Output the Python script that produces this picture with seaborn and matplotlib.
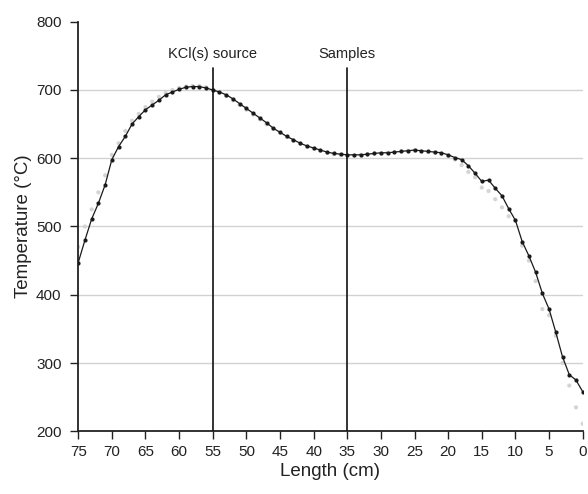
import matplotlib
matplotlib.use("Agg")
import matplotlib.pyplot as plt
import pandas as pd
import seaborn as sns

# Furnace temperature profile along the tube
length_cm = list(range(75, -1, -1))

temp_measured = [
    447, 480, 511, 534, 561, 598, 617, 632, 650, 661,   # 75..66
    671, 678, 685, 693, 697, 701, 704, 705, 705, 703,   # 65..56
    700, 697, 693, 687, 680, 673, 666, 659, 652, 644,   # 55..46
    638, 632, 627, 622, 618, 615, 612, 609, 607, 606,   # 45..36
    605, 605, 605, 606, 607, 608, 608, 609, 610, 611,   # 35..26
    612, 611, 610, 609, 608, 605, 601, 598, 589, 578,   # 25..16
    566, 568, 556, 545, 526, 509, 478, 457, 433, 402,   # 15..6
    379, 345, 309, 283, 275, 258,                       # 5..0
]

temp_repeat = [
    470, 500, 525, 550, 575, 605, 622, 640, 655, 665,
    675, 683, 690, 696, 700, 703, 705, 706, 706, 704,
    700, 696, 691, 685, 678, 671, 664, 657, 650, 643,
    637, 631, 626, 621, 617, 614, 611, 608, 606, 605,
    604, 604, 605, 606, 607, 607, 608, 609, 610, 611,
    611, 610, 609, 608, 606, 603, 598, 590, 580, 572,
    557, 552, 540, 528, 515, 509, 472, 450, 420, 379,
    370, 340, 300, 267, 235, 211,
]

marker_pos = [55, 35]
marker_text = ["KCl(s) source", "Samples"]

y_ticks = [200, 300, 400, 500, 600, 700, 800]
x_ticks = list(range(75, -1, -5))

df = pd.DataFrame({"Length": length_cm,
                   "measured": temp_measured,
                   "repeat": temp_repeat})

sns.set_style("ticks")
plt.rcParams["font.family"] = ["Liberation Sans", "DejaVu Sans"]

fig = plt.figure(figsize=(5.88, 4.94), dpi=100)
ax = fig.add_axes([0.133, 0.127, 0.858, 0.829])

# horizontal guide lines, not at the axis ends
for yv in y_ticks[1:-1]:
    ax.axhline(yv, color="#d2d2d2", linewidth=1.0, zorder=1)

# light grey repeat run
sns.scatterplot(data=df, x="Length", y="repeat", color="#d4d4d4",
                s=9, edgecolor="none", ax=ax, zorder=2)
# main measured profile
sns.lineplot(data=df, x="Length", y="measured", color="#1a1a1a",
             linewidth=0.9, marker="o", markersize=3, markeredgewidth=0,
             ax=ax, zorder=3)

for xp, txt in zip(marker_pos, marker_text):
    ax.plot([xp, xp], [200, 732], color="#111111", linewidth=1.2, zorder=4)
    ax.text(xp, 752, txt, ha="center", va="center", fontsize=10.5,
            color="#222222")

ax.set_xlim(75, 0)
ax.set_ylim(200, 800)
ax.set_xticks(x_ticks)
ax.set_yticks(y_ticks)
ax.tick_params(labelsize=11, colors="#222222", length=6, width=1, pad=4)
ax.tick_params(axis="y", pad=6)
ax.set_xlabel("Length (cm)", fontsize=13.5, color="#222222", labelpad=3)
ax.set_ylabel("Temperature (°C)", fontsize=13.5, color="#222222", labelpad=3)

sns.despine(ax=ax)
ax.spines["left"].set_color("#222222")
ax.spines["bottom"].set_color("#222222")
ax.spines["left"].set_linewidth(1.3)
ax.spines["bottom"].set_linewidth(1.3)

fig.savefig("out.png", dpi=100)
